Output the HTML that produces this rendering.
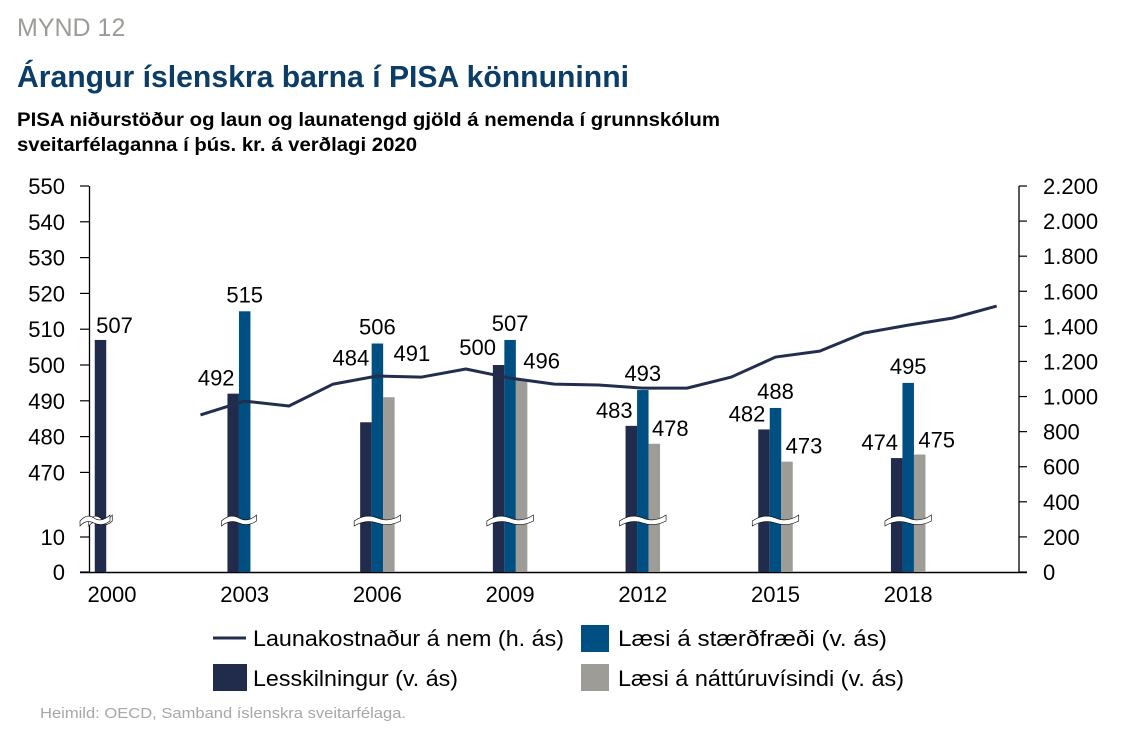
<!DOCTYPE html>
<html><head><meta charset="utf-8"><style>
body{margin:0;background:#fff;width:1123px;height:734px;overflow:hidden;font-family:"Liberation Sans",sans-serif}
svg text{font-family:"Liberation Sans",sans-serif}
</style></head><body>
<svg id="c" width="1123" height="734" xmlns="http://www.w3.org/2000/svg">
<text x="17" y="36" font-size="25" fill="#9d9b96">MYND 12</text>
<text x="17" y="87" font-size="30.5" font-weight="bold" fill="#0b3d66" textLength="612" lengthAdjust="spacingAndGlyphs">Árangur íslenskra barna í PISA könnuninni</text>
<text x="17" y="126" font-size="19.5" font-weight="bold" fill="#000" textLength="703" lengthAdjust="spacingAndGlyphs">PISA niðurstöður og laun og launatengd gjöld á nemenda í grunnskólum</text>
<text x="17" y="151" font-size="19.5" font-weight="bold" fill="#000" textLength="400" lengthAdjust="spacingAndGlyphs">sveitarfélaganna í þús. kr. á verðlagi 2020</text>
<g id="plot"></g>
<g>
<line x1="213" y1="638" x2="246" y2="638" stroke="#232e4f" stroke-width="3"/>
<text x="253" y="646" font-size="22" textLength="311" lengthAdjust="spacingAndGlyphs">Launakostnaður á nem (h. ás)</text>
<rect x="581" y="625" width="28" height="27" fill="#004f83"/>
<text x="618" y="646" font-size="22" textLength="269" lengthAdjust="spacingAndGlyphs">Læsi á stærðfræði (v. ás)</text>
<rect x="213" y="664" width="34" height="27" fill="#212c4d"/>
<text x="253" y="686" font-size="22" textLength="205" lengthAdjust="spacingAndGlyphs">Lesskilningur (v. ás)</text>
<rect x="581" y="664" width="28" height="27" fill="#9d9c97"/>
<text x="618" y="686" font-size="22" textLength="286" lengthAdjust="spacingAndGlyphs">Læsi á náttúruvísindi (v. ás)</text>
</g>
<text x="40" y="718" font-size="15" fill="#a7a7a7" textLength="366" lengthAdjust="spacingAndGlyphs">Heimild: OECD, Samband íslenskra sveitarfélaga.</text>
</svg>
<script>
const years=[2000,2003,2006,2009,2012,2015,2018];
const reading=[507,492,484,500,483,482,474];
const math=[null,515,506,507,493,488,495];
const science=[null,null,491,496,478,473,475];
const lineYears=[2002,2003,2004,2005,2006,2007,2008,2009,2010,2011,2012,2013,2014,2015,2016,2017,2018,2019,2020];
const lineVals=[895,974,946,1071,1117,1111,1157,1105,1071,1066,1048,1048,1111,1225,1259,1362,1407,1447,1516];
const leftTicksTop=[550,540,530,520,510,500,490,480,470];
const leftTicksBottom=[10,0];
const rightTicks=[0,200,400,600,800,1000,1200,1400,1600,1800,2000,2200];
// label offsets (layout only)
const readDx=[14,-17,-15,-21,-17,-17,-17], readDy=[-15,-16,-65,-18,-16,-16,-16];
const sciDx=[0,0,23,20,16,17,17], sciDy=[0,0,-44,-19,-16,-16,-15];

const NS="http://www.w3.org/2000/svg";
const g=document.getElementById('plot');
function el(t,a,txt){const e=document.createElementNS(NS,t);for(const k in a)e.setAttribute(k,a[k]);if(txt!==undefined)e.textContent=txt;g.appendChild(e);return e;}
const xYear=y=>112+(y-2000)*132.7/3;
const yLeft=v=>v>=100?186+(550-v)*3.58:572-v*3.5;
const yRight=v=>572-v*386/2200;
const bw=11.5;
let a=el('line',{x1:89.5,y1:186,x2:89.5,y2:572,stroke:'#000','stroke-width':1.3});

a=el('line',{x1:1019,y1:186,x2:1019,y2:572,stroke:'#000','stroke-width':1.3});

a=el('line',{x1:80,y1:572.5,x2:1027,y2:572.5,stroke:'#000','stroke-width':1.5});

leftTicksTop.concat(leftTicksBottom).forEach(v=>{
 const y=yLeft(v);
 let t=el('line',{x1:80,y1:y,x2:89,y2:y,stroke:'#000','stroke-width':1.2});
 
 t=el('text',{x:65,y:y+8,'font-size':22,'text-anchor':'end'},v);
 
});
rightTicks.forEach(v=>{
 const y=yRight(v);
 let t=el('line',{x1:1019,y1:y,x2:1027,y2:y,stroke:'#000','stroke-width':1.2});
 
 t=el('text',{x:1043,y:y+8,'font-size':22},v===0?'0':v.toLocaleString('de-DE'));
 
});
years.forEach(y=>{
 const t=el('text',{x:xYear(y),y:602,'font-size':22,'text-anchor':'middle'},y);
 
});
years.forEach((yr,i)=>{
 const cx=xYear(yr);
 const series=[[reading[i],'#212c4d',cx-bw*1.5,'bar-reading'],[math[i],'#004f83',cx-bw*0.5,'bar-math'],[science[i],'#9d9c97',cx+bw*0.5,'bar-science']];
 series.forEach((s,k)=>{
  if(s[0]==null)return;
  const top=yLeft(s[0]);
  const r=el('rect',{x:s[2],y:top,width:bw,height:572-top,fill:s[1]});
  
  let lx,ly;
  if(k===0){lx=s[2]+bw/2+readDx[i];ly=top+readDy[i];}
  else if(k===1){lx=s[2]+bw/2;ly=top-17;}
  else{lx=s[2]+bw/2+sciDx[i];ly=top+sciDy[i];}
  const t=el('text',{x:lx,y:ly+8,'font-size':22,'text-anchor':'middle'},s[0]);
  
 });
 const w=(years[i]===2000)?bw:(science[i]==null?bw*2:bw*3);
 const x0=cx-bw*1.5-6,x1=cx-bw*1.5+w+6;
 const m=(x0+x1)/2;
 const br=el('path',{d:`M${x0} ${521} Q${(x0+m)/2} ${513} ${m} ${518} T${x1} ${515} L${x1} ${521} Q${(m+x1)/2} ${527} ${m} ${523} T${x0} ${526} Z`,fill:'#fff',stroke:'#000','stroke-width':0.6});
 
});
let bk=el('path',{d:'M80 521 Q87 513 94 518 T110 515 L110 521 Q102 527 94 523 T80 526 Z',fill:'#fff',stroke:'#000','stroke-width':0.6});

const pts=lineYears.map((y,i)=>xYear(y)+','+yRight(lineVals[i])).join(' ');
const pl=el('polyline',{points:pts,fill:'none',stroke:'#232e4f','stroke-width':3,'stroke-linejoin':'round'});

</script>
</body></html>
